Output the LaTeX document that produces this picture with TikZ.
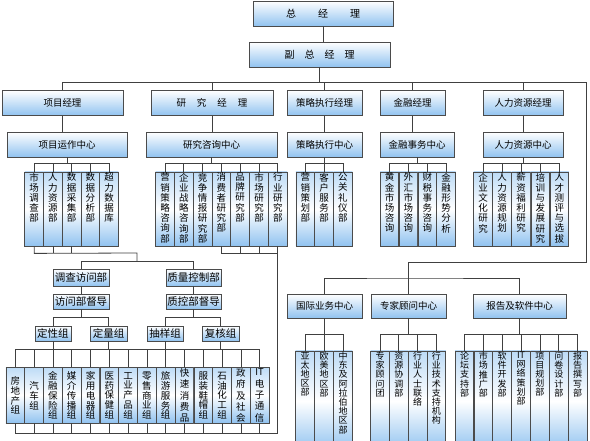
\documentclass[tikz,border=0pt]{standalone}
\usepackage{fontspec}
\setmainfont{Noto Sans CJK SC}
\definecolor{boxblue}{RGB}{145,195,240}
\definecolor{boxline}{RGB}{75,75,75}
\def\vtend{}
\newcommand\vtext[1]{\expandafter\vtfirst#1\vtend}
\def\vtfirst#1{#1\vtnext}
\def\vtnext#1{\ifx\vtend#1\else\\#1\expandafter\vtnext\fi}
\newcommand\vcol[3]{\parbox[c][#1][#2]{17pt}{\centering\vspace*{1pt}\vtext{#3}}}
\begin{document}
\begin{tikzpicture}[x=1pt, y=-1pt,
    link/.style={draw=black!75, line width=0.8pt},
    hbox/.style={draw=boxline, line width=0.8pt, top color=white, bottom color=boxblue,
        inner sep=0pt, minimum height=25pt, font=\fontsize{9.5pt}{10pt}\selectfont},
    sbox/.style={hbox, font=\fontsize{10.5pt}{11pt}\selectfont},
    vbox/.style={draw=boxline, line width=0.8pt, top color=boxblue!60, bottom color=boxblue,
        middle color=white, minimum width=18.7pt, inner sep=0pt, font=\fontsize{9.5pt}{10.2pt}\selectfont}]
    \useasboundingbox[fill=white] (0,0) rectangle (590,441);
    \node[hbox, minimum width=140pt, font=\fontsize{10pt}{11pt}\selectfont] (zjl) at (323,13.5) {总\hspace{22pt}经\hspace{22pt}理};
    \node[hbox, minimum width=141pt, font=\fontsize{10pt}{11pt}\selectfont] (fzjl) at (319.5,54.5) {副\hspace{10pt}总\hspace{10pt}经\hspace{10pt}理};
    \node[hbox, minimum width=121pt] (xmjl) at (62.5,103) {项目经理};
    \node[hbox, minimum width=122pt] (yjjl) at (212,103) {研\hspace{11pt}究\hspace{11pt}经\hspace{11pt}理};
    \node[hbox, minimum width=75pt] (cljl) at (324.5,103) {策略执行经理};
    \node[hbox, minimum width=65pt] (jrjl) at (412.5,103) {金融经理};
    \node[hbox, minimum width=80pt] (rljl) at (523,103) {人力资源经理};
    \node[hbox, minimum width=120pt] (xmzx) at (67,144.5) {项目运作中心};
    \node[hbox, minimum width=131pt] (yjzx) at (211.5,144.5) {研究咨询中心};
    \node[hbox, minimum width=75pt] (clzx) at (324.5,144.5) {策略执行中心};
    \node[hbox, minimum width=74pt] (jrzx) at (417,144.5) {金融事务中心};
    \node[hbox, minimum width=80pt] (rlzx) at (523,144.5) {人力资源中心};
    \foreach \txt [count=\i] in {市场调查部,人力资源部,数据采集部,数据分析部,超力数据库}
        \node[vbox] (a\i) at ({34.2+18.7*(\i-1)},209) {\vcol{74pt}{t}{\txt}};
    \foreach \txt [count=\i] in {营销策略咨询部,企业战略咨询部,竞争情报研究部,消费者研究部,品牌研究部,市场研究部,行业研究部}
        \node[vbox] (b\i) at ({165+18.8*(\i-1)},209) {\vcol{74pt}{t}{\txt}};
    \foreach \txt [count=\i] in {营销策划部,客户服务部,公关礼仪部}
        \node[vbox] (c\i) at ({305.3+18.8*(\i-1)},209) {\vcol{74pt}{t}{\txt}};
    \foreach \txt [count=\i] in {黄金市场咨询,外汇市场咨询,财税事务咨询,金融形势分析}
        \node[vbox] (d\i) at ({389.5+18.9*(\i-1)},209) {\vcol{74pt}{t}{\txt}};
    \foreach \txt [count=\i] in {企业文化研究,人力资源规划,薪资福利研究,培训与发展研究,人才测评与选拔}
        \node[vbox] (e\i) at ({483+19.1*(\i-1)},209) {\vcol{74pt}{t}{\txt}};
    \node[sbox, minimum width=56pt, minimum height=17pt] (dcfw) at (81,277.5) {调查访问部};
    \node[sbox, minimum width=55pt, minimum height=17pt] (zlkz) at (193.5,277.5) {质量控制部};
    \node[sbox, minimum width=56pt, minimum height=15pt] (fwdd) at (81,301.5) {访问部督导};
    \node[sbox, minimum width=55pt, minimum height=15pt] (zkdd) at (193.5,301.5) {质控部督导};
    \node[sbox, minimum width=36pt, minimum height=15pt] (dx) at (53,333.5) {定性组};
    \node[sbox, minimum width=37pt, minimum height=15pt] (dl) at (108.5,333.5) {定量组};
    \node[sbox, minimum width=36pt, minimum height=15pt] (cy) at (165,333.5) {抽样组};
    \node[sbox, minimum width=37pt, minimum height=15pt] (fh) at (220.5,333.5) {复核组};
    \foreach \txt/\pitch [count=\i] in {房地产组/9.6,汽车组/10,金融保险组/9.8,媒介传播组/9.8,家用电器组/9.8,医药保健组/9.8,工业产品组/9.8,
            零售商业组/9.8,旅游服务组/9.8,快速消费品/11.3,服装鞋帽组/9.8,石油化工组/9.8,政府及社会/11.3,{IT}电子通信/11.3}
        \node[vbox] (p\i) at ({15.3+18.8*(\i-1)},395) {\fontsize{9.5pt}{\pitch pt}\selectfont\vcol{56pt}{c}{\txt}};
    \node[hbox, minimum width=75pt, minimum height=24pt] (gjzx) at (324.5,306) {国际业务中心};
    \node[hbox, minimum width=75pt, minimum height=24pt] (zjzx) at (408.5,306) {专家顾问中心};
    \node[hbox, minimum width=93pt, minimum height=24pt] (bgzx) at (519.5,306) {报告及软件中心};
    \foreach \txt [count=\i] in {亚太地区部,欧美地区部,中东及阿拉伯地区部}
        \node[vbox, font=\fontsize{9pt}{9.2pt}\selectfont] (g\i) at ({305+19*(\i-1)},401) {\vcol{100pt}{t}{\txt}};
    \foreach \txt [count=\i] in {专家顾问团,资源协调部,行业人士联络,行业技术支持机构}
        \node[vbox, font=\fontsize{9pt}{9.2pt}\selectfont] (z\i) at ({380+18.8*(\i-1)},401) {\vcol{100pt}{t}{\txt}};
    \foreach \txt [count=\i] in {论坛支持部,市场推广部,软件开发部,{IT}网络策划部,项目规划部,问卷设计部,报告撰写部}
        \node[vbox, font=\fontsize{9pt}{9.2pt}\selectfont] (r\i) at ({464.5+18.85*(\i-1)},401) {\vcol{100pt}{t}{\txt}};
    \coordinate (tbus) at (586,82);
    \coordinate (rturn) at (586,262);
    \coordinate (lbus) at (408.5,278);
    \coordinate (ajoin) at (137,253);
    \draw[link] (zjl.south) -- (zjl.south |- fzjl.north);
    \draw[link] (fzjl.south) -- (fzjl.south |- tbus);
    \draw[link] (xmjl.north) |- (tbus) -- (rturn) -| (lbus);
    \foreach \n in {yjjl,cljl,jrjl,rljl} \draw[link] (\n.north) -- (\n.north |- tbus);
    \foreach \up/\dn in {xmjl/xmzx,yjjl/yjzx,cljl/clzx,jrjl/jrzx,rljl/rlzx}
        \draw[link] (\up.south) -- (\up.south |- \dn.north);
    \foreach \g/\n/\hub in {a/5/xmzx,b/7/yjzx,c/3/clzx,d/4/jrzx,e/5/rlzx} {
        \draw[link] (\g1.north) -- ++(0,-8) -| (\g\n.north);
        \draw[link] (\hub.south) -- ++(0,7);
        \foreach \i in {1,...,\n} \draw[link] (\g\i.north) -- ++(0,-8);
    }
    \draw[link] (a1.south) -- ++(0,7) -- (ajoin) -- ++(0,9);
    \foreach \i in {2,3} \draw[link] (a\i.south) -- ++(0,7);
    \draw[link] (dcfw.north) -- ++(0,-7) -| (zlkz.north);
    \draw[link] (dcfw) -- (fwdd);
    \draw[link] (zlkz) -- (zkdd);
    \draw[link] (fwdd.south) -- ++(0,9);
    \draw[link] (zkdd.south) -- ++(0,9);
    \draw[link] (dx.north) -- ++(0,-8) -| (dl.north);
    \draw[link] (cy.north) -- ++(0,-8) -| (fh.north);
    \foreach \n in {dx,dl,cy,fh} \draw[link] (\n.south) -- ++(0,9);
    \draw[link] (p1.north) -- ++(0,-17) -| (p14.north);
    \foreach \i in {2,...,13} \draw[link] (p\i.north) -- ++(0,-17);
    \draw[link] (b4.south) -- ++(0,7) -| (b7.south);
    \foreach \i in {5,6} \draw[link] (b\i.south) -- ++(0,7);
    \draw[link] (p1.south) -- ++(0,10) -| (b7.south);
    \foreach \i in {2,...,14} \draw[link] (p\i.south) -- ++(0,10);
    \draw[link] (gjzx.north) |- (lbus) -| (bgzx.north);
    \draw[link] (lbus) -- (zjzx.north);
    \foreach \g/\n/\hub in {g/3/gjzx,z/4/zjzx,r/7/bgzx} {
        \draw[link] (\g1.north) -- ++(0,-16) -| (\g\n.north);
        \draw[link] (\hub.south) -- ++(0,17);
        \foreach \i in {1,...,\n} \draw[link] (\g\i.north) -- ++(0,-16);
    }
\end{tikzpicture}
\end{document}
